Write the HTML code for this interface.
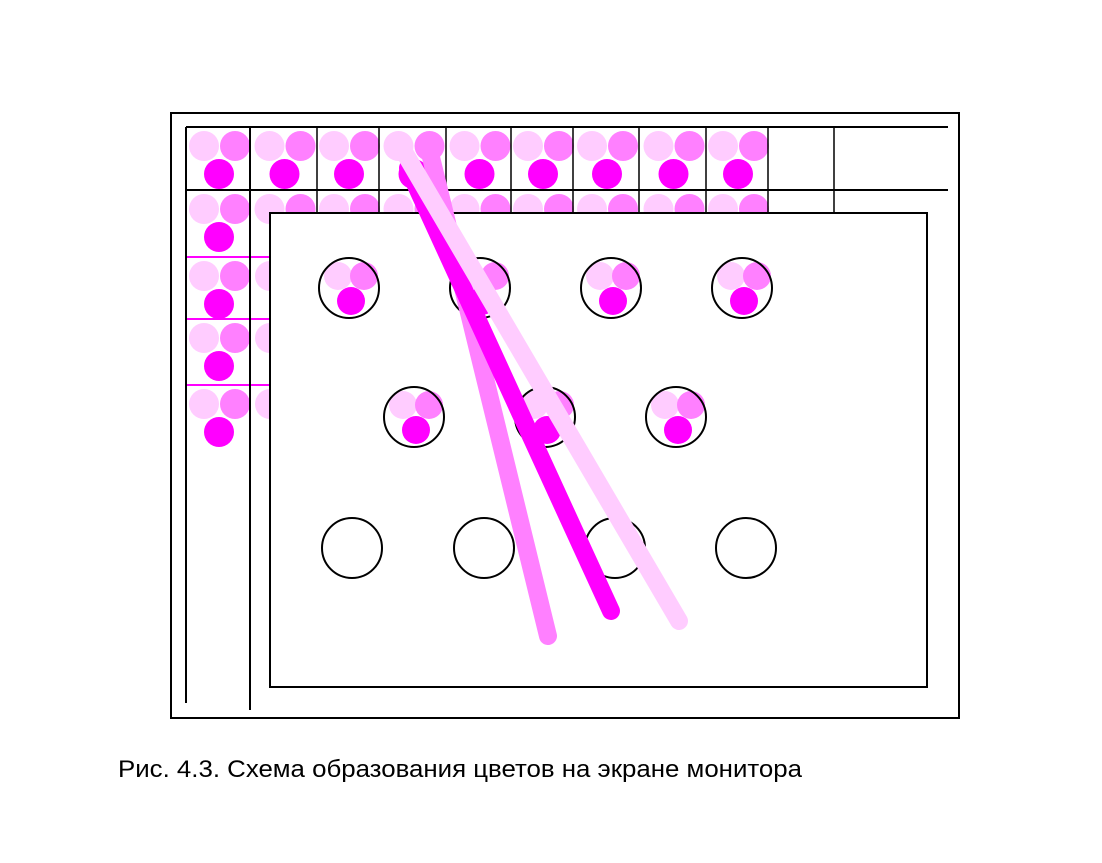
<!DOCTYPE html>
<html><head><meta charset="utf-8"><style>
html,body{margin:0;padding:0;background:#fff;}
svg{display:block;}
</style></head><body>
<svg id="fig" width="1102" height="863" viewBox="0 0 1102 863" xmlns="http://www.w3.org/2000/svg">
<rect x="171" y="113" width="788" height="605" fill="none" stroke="#000" stroke-width="2"/>
<g id="grid"></g>
<rect x="270" y="213" width="657" height="474" fill="#fff" stroke="#000" stroke-width="2"/>
<g id="phos"></g>
<g id="beams"></g>
<text x="118" y="777" font-family="Liberation Sans, sans-serif" font-size="24" textLength="684" lengthAdjust="spacingAndGlyphs" fill="#000">Рис. 4.3. Схема образования цветов на экране монитора</text>
</svg>
<script>
const NS='http://www.w3.org/2000/svg';
const L='#ffccff',M='#ff80ff',D='#ff00ff';
function mk(p,tag,a){const e=document.createElementNS(NS,tag);for(const k in a)e.setAttribute(k,a[k]);p.appendChild(e);return e;}
const g=document.getElementById('grid');
const cols=[186,250,317,379,446,511,573,639,706,768];
const rows=[127,190,257,319,385];
function triad(p,cx,top){
  let e;
  e=mk(p,'circle',{cx:cx-14,cy:top+19,r:15,fill:L});
  
  
  e=mk(p,'circle',{cx:cx+17,cy:top+19,r:15,fill:M});
  
  
  e=mk(p,'circle',{cx:cx+1,cy:top+47,r:15,fill:D});
  
  
}
for(let i=0;i<9;i++){const cx=(cols[i]+cols[i+1])/2;triad(g,cx,127);triad(g,cx,190);}
for(let r=2;r<5;r++){triad(g,218,rows[r]);triad(g,284,rows[r]);}
// grid lines
let e;
e=mk(g,'line',{x1:186,y1:127,x2:948,y2:127,stroke:'#000','stroke-width':2});

e=mk(g,'line',{x1:186,y1:190,x2:948,y2:190,stroke:'#000','stroke-width':2});

[257,319,385].forEach(y=>{e=mk(g,'line',{x1:186,y1:y,x2:270,y2:y,stroke:D,'stroke-width':2});
});
e=mk(g,'line',{x1:186,y1:127,x2:186,y2:703,stroke:'#000','stroke-width':2});

e=mk(g,'line',{x1:250,y1:127,x2:250,y2:710,stroke:'#000','stroke-width':2});

[317,379,446,511,573,639,706,768,834].forEach(x=>{e=mk(g,'line',{x1:x,y1:127,x2:x,y2:213,stroke:'#000','stroke-width':1.5});
});
// phosphor circles on screen
const p=document.getElementById('phos');
const cells=[[349,288,1],[480,288,1],[611,288,1],[742,288,1],[414,417,1],[545,417,1],[676,417,1],[352,548,0],[484,548,0],[615,548,0],[746,548,0]];
cells.forEach(([x,y,f])=>{
  if(f){
    e=mk(p,'circle',{cx:x-11,cy:y-12,r:14,fill:L});
    e=mk(p,'circle',{cx:x+15,cy:y-12,r:14,fill:M});
    e=mk(p,'circle',{cx:x+2,cy:y+13,r:14,fill:D});
  }
  e=mk(p,'circle',{cx:x,cy:y,r:30,fill:'none',stroke:'#000','stroke-width':2});
  
});
// beams
const b=document.getElementById('beams');
e=mk(b,'line',{x1:428,y1:145,x2:548,y2:636,stroke:M,'stroke-width':18,'stroke-linecap':'round'});

e=mk(b,'line',{x1:408,y1:168,x2:611,y2:611,stroke:D,'stroke-width':18,'stroke-linecap':'round'});

e=mk(b,'line',{x1:400,y1:145,x2:679,y2:621,stroke:L,'stroke-width':18,'stroke-linecap':'round'});

</script>
</body></html>
